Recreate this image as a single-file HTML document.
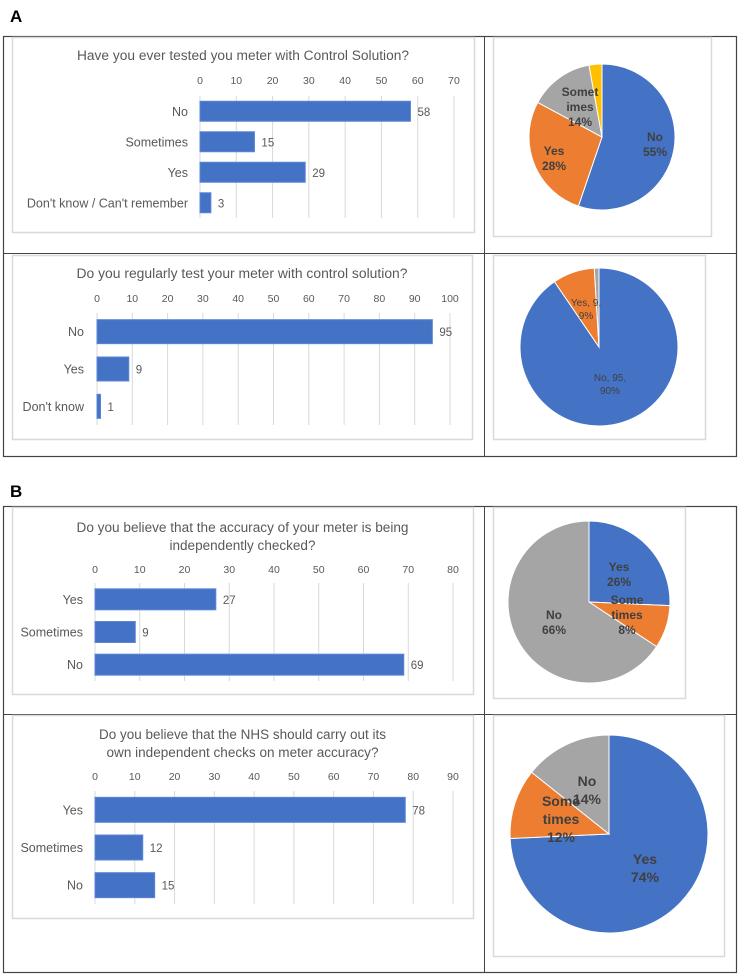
<!DOCTYPE html>
<html><head><meta charset="utf-8"><style>
body{margin:0;background:#fff;width:739px;height:976px;overflow:hidden;font-family:"Liberation Sans",sans-serif}
svg{position:absolute;left:0;top:0}
</style></head><body>
<svg id="s" width="739" height="976" font-family="Liberation Sans, sans-serif"></svg>
<script>
const catsA1=["No","Sometimes","Yes","Don't know / Can't remember"];
const valsA1=[58,15,29,3];
const ticksA1=[0,10,20,30,40,50,60,70];
const catsA2=["No","Yes","Don't know"];
const valsA2=[95,9,1];
const ticksA2=[0,10,20,30,40,50,60,70,80,90,100];
const catsB1=["Yes","Sometimes","No"];
const valsB1=[27,9,69];
const ticksB1=[0,10,20,30,40,50,60,70,80];
const catsB2=["Yes","Sometimes","No"];
const valsB2=[78,12,15];
const ticksB2=[0,10,20,30,40,50,60,70,80,90];
const pieA1Vals=[58,29,15,3];
const pieA1Labels=[["No","55%"],["Yes","28%"],["Somet","imes","14%"],[]];
const pieA2Vals=[95,9,1];
const pieA2Labels=[["No, 95,","90%"],["Yes, 9,","9%"],[]];
const pieB1Vals=[27,9,69];
const pieB1Labels=[["Yes","26%"],["Some","times","8%"],["No","66%"]];
const pieB2Vals=[78,12,15];
const pieB2Labels=[["Yes","74%"],["Some","times","12%"],["No","14%"]];

const S=document.getElementById('s');const NS="http://www.w3.org/2000/svg";
function el(t,a,p){const e=document.createElementNS(NS,t);for(const k in a)e.setAttribute(k,a[k]);(p||S).appendChild(e);return e;}
function txt(x,y,s,a){const e=el('text',Object.assign({x:x,y:y,fill:'#595959','font-size':12},a||{}));e.textContent=s;return e;}

// frames
function frame(y0,y1,ym,name){
  const g=el('g',{});
  
  
  el('rect',{x:3.5,y:y0+.5,width:733,height:y1-y0,fill:'none',stroke:'#444','stroke-width':1.2},g);
  el('line',{x1:484.5,y1:y0,x2:484.5,y2:y1,stroke:'#444','stroke-width':1},g);
  el('line',{x1:3,y1:ym+.5,x2:737,y2:ym+.5,stroke:'#444','stroke-width':1},g);
}
const la=txt(10,22,"A",{'font-size':17,'font-weight':'bold',fill:'#000'});

const lb=txt(10,497,"B",{'font-size':17,'font-weight':'bold',fill:'#000'});

frame(36,456,253,'section-a-table');
frame(506,972,714,'section-b-table');

function box(x0,y0,x1,y1,name){
  const r=el('rect',{x:x0+.5,y:y0+.5,width:x1-x0,height:y1-y0,fill:'#fff',stroke:'#d9d9d9','stroke-width':1.5});
  
}

function bar(cfg,cats,vals,ticks){
  box(cfg.bx0,cfg.by0,cfg.bx1,cfg.by1,cfg.name+'-box');
  const g=el('g',{});
  
  
  cfg.title.forEach((t,i)=>{const e=txt((cfg.bx0+cfg.bx1)/2,cfg.ty+i*18,t,{'text-anchor':'middle','font-size':13.5,'textLength':cfg.tl[i],'lengthAdjust':'spacingAndGlyphs'});g.appendChild(e);});
  const max=ticks[ticks.length-1];
  const xs=v=>cfg.x0+(cfg.x1-cfg.x0)*v/max;
  ticks.forEach(t=>{
    el('line',{x1:xs(t),y1:cfg.gy0,x2:xs(t),y2:cfg.gy1,stroke:'#d9d9d9'},g);
    const e=txt(xs(t),cfg.tky,String(t),{'text-anchor':'middle','font-size':10.5});
    g.appendChild(e);
  });
  const band=(cfg.gy1-cfg.gy0)/cats.length;
  cats.forEach((c,i)=>{
    const yc=cfg.gy0+band*(i+.5);
    const r=el('rect',{x:xs(0),y:yc-cfg.bh/2,width:xs(vals[i])-xs(0),height:cfg.bh,fill:'#4472c4',stroke:'#5b86d6','stroke-width':1},g);
    
    
    const l=txt(cfg.lx,yc+4.5,c,{'text-anchor':'end','font-size':12.5});
    g.appendChild(l);
    const v=txt(xs(vals[i])+7,yc+4.5,String(vals[i]),{'font-size':11.5});
    g.appendChild(v);
  });
}

const COLS=['#4472c4','#ed7d31','#a5a5a5','#ffc000'];
function pie(cfg,vals,labels,colors){
  box(cfg.bx0,cfg.by0,cfg.bx1,cfg.by1,cfg.name+'-box');
  const g=el('g',{});
  
  
  const tot=vals.reduce((a,b)=>a+b,0);let a=0;
  vals.forEach((v,i)=>{
    const a0=a/tot*2*Math.PI,a1=(a+v)/tot*2*Math.PI;a+=v;
    const p=(t)=>[cfg.cx+cfg.r*Math.sin(t),cfg.cy-cfg.r*Math.cos(t)];
    const [x0,y0]=p(a0),[x1,y1]=p(a1);
    const d=`M${cfg.cx},${cfg.cy}L${x0},${y0}A${cfg.r},${cfg.r} 0 ${(a1-a0)>Math.PI?1:0} 1 ${x1},${y1}Z`;
    const s=el('path',{d:d,fill:colors[i],stroke:'#fff','stroke-width':1},g);
    
    
  });
  labels.forEach((ls,i)=>{
    if(!ls.length)return;
    const [lx,ly]=cfg.lp[i];
    ls.forEach((t,j)=>{const e=txt(lx,ly+j*cfg.lh,t,{'text-anchor':'middle','font-size':cfg.fs,'font-weight':cfg.fw,fill:cfg.fc});
      g.appendChild(e);});
  });
}

bar({name:'bar-chart-control-solution-ever',bx0:12,by0:37,bx1:474,by1:232,title:["Have you ever tested you meter with Control Solution?"],tl:[332],ty:60,x0:200,x1:454,tky:84,gy0:96,gy1:218,bh:20,lx:188},catsA1,valsA1,ticksA1);
bar({name:'bar-chart-control-solution-regular',bx0:12,by0:255,bx1:472,by1:439,title:["Do you regularly test your meter with control solution?"],tl:[331],ty:278,x0:97,x1:450,tky:302,gy0:313,gy1:425,bh:24,lx:84},catsA2,valsA2,ticksA2);
bar({name:'bar-chart-independently-checked',bx0:12,by0:507,bx1:473,by1:694,title:["Do you believe that the accuracy of your meter is being","independently checked?"],tl:[332,146],ty:532,x0:95,x1:453,tky:573,gy0:583,gy1:681,bh:21,lx:83},catsB1,valsB1,ticksB1);
bar({name:'bar-chart-nhs-checks',bx0:12,by0:715,bx1:473,by1:918,title:["Do you believe that the NHS should carry out its","own independent checks on meter accuracy?"],tl:[287,272],ty:739,x0:95,x1:453,tky:780,gy0:791,gy1:904,bh:25,lx:83},catsB2,valsB2,ticksB2);

pie({name:'pie-chart-control-solution-ever',bx0:493,by0:37,bx1:711,by1:236,cx:602,cy:137,r:73,lp:[[655,141],[554,155],[580,96]],lh:15,fs:12,fw:'bold',fc:'#404040'},pieA1Vals,pieA1Labels,COLS);
pie({name:'pie-chart-control-solution-regular',bx0:493,by0:255,bx1:705,by1:439,cx:599,cy:347,r:79,lp:[[610,381],[586,306]],lh:13,fs:10,fw:'normal',fc:'#404040'},pieA2Vals,pieA2Labels,COLS);
pie({name:'pie-chart-independently-checked',bx0:493,by0:507,bx1:685,by1:698,cx:589,cy:602,r:81,lp:[[619,571],[627,604],[554,619]],lh:15,fs:12,fw:'bold',fc:'#404040'},pieB1Vals,pieB1Labels,['#4472c4','#ed7d31','#a5a5a5']);
pie({name:'pie-chart-nhs-checks',bx0:493,by0:715,bx1:724,by1:956,cx:609,cy:834,r:99,lp:[[645,864],[561,806],[587,786]],lh:18,fs:14,fw:'bold',fc:'#404040'},pieB2Vals,pieB2Labels,['#4472c4','#ed7d31','#a5a5a5']);
</script>
</body></html>
